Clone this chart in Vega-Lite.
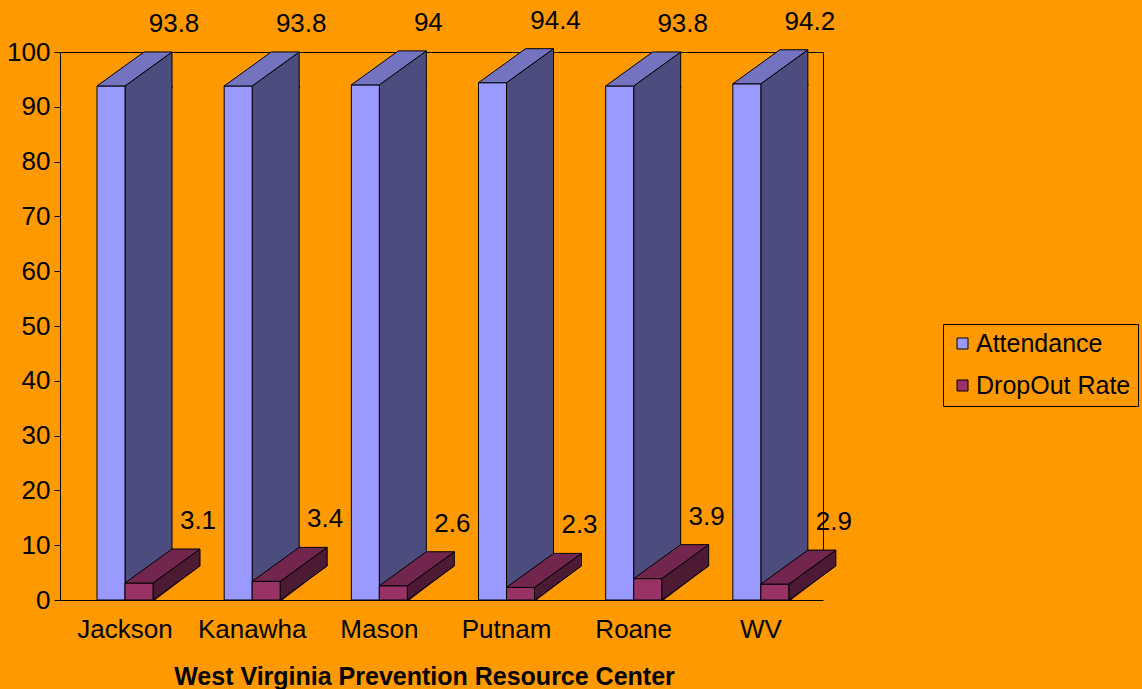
{
  "$schema": "https://vega.github.io/schema/vega-lite/v6.json",
  "width": 763,
  "height": 548,
  "autosize": "none",
  "padding": {"left": 60, "top": 52, "right": 319, "bottom": 89},
  "background": "#FF9900",
  "config": {
    "view": {"stroke": "black", "strokeWidth": 1, "fill": "#FF9900"},
    "font": "Liberation Sans",
    "axis": {"domainColor": "black", "tickColor": "black", "labelColor": "black", "titleColor": "black", "grid": false}
  },
  "data": {
    "values": [
      {"county": "Jackson", "measure": "Attendance", "value": 93.8},
      {"county": "Jackson", "measure": "DropOut Rate", "value": 3.1},
      {"county": "Kanawha", "measure": "Attendance", "value": 93.8},
      {"county": "Kanawha", "measure": "DropOut Rate", "value": 3.4},
      {"county": "Mason", "measure": "Attendance", "value": 94},
      {"county": "Mason", "measure": "DropOut Rate", "value": 2.6},
      {"county": "Putnam", "measure": "Attendance", "value": 94.4},
      {"county": "Putnam", "measure": "DropOut Rate", "value": 2.3},
      {"county": "Roane", "measure": "Attendance", "value": 93.8},
      {"county": "Roane", "measure": "DropOut Rate", "value": 3.9},
      {"county": "WV", "measure": "Attendance", "value": 94.2},
      {"county": "WV", "measure": "DropOut Rate", "value": 2.9}
    ]
  },
  "encoding": {
    "x": {
      "field": "county", "type": "nominal", "sort": null,
      "scale": {"paddingInner": 0.56, "paddingOuter": 0.28, "align": 0.52},
      "title": "West Virginia Prevention Resource Center",
      "axis": {"zindex": 1, "labelAngle": 0, "ticks": false, "labelFontSize": 26, "labelPadding": 16, "titleFontSize": 25, "titleFontWeight": "bold", "titlePadding": 22, "titleX": 364}
    },
    "y": {
      "field": "value", "type": "quantitative",
      "scale": {"domain": [0, 100], "nice": false},
      "title": null,
      "axis": {"values": [0, 10, 20, 30, 40, 50, 60, 70, 80, 90, 100], "tickSize": 6, "labelFontSize": 26, "labelPadding": 4}
    }
  },
  "layer": [
    {
      "transform": [{"filter": "datum.measure === 'Attendance'"}],
      "mark": {"type": "bar", "width": 47, "xOffset": 23.5, "fill": "#4C4C7F", "stroke": "black", "strokeWidth": 1}
    },
    {
      "transform": [{"filter": "datum.measure === 'Attendance'"}],
      "mark": {"type": "point", "shape": "M14,2L14,0L61,-34L61,2", "size": 4, "xOffset": -14, "filled": true, "fill": "#4C4C7F", "stroke": "black", "strokeWidth": 1, "opacity": 1}
    },
    {
      "transform": [{"filter": "datum.measure === 'Attendance'"}],
      "mark": {"type": "point", "shape": "M14.5,1.5L61,-34L62.5,-34L62.5,1.5Z", "size": 4, "xOffset": -14, "filled": true, "fill": "#FF9900", "strokeWidth": 0, "opacity": 1},
      "encoding": {"y": {"datum": 0}}
    },
    {
      "transform": [{"filter": "datum.measure === 'Attendance'"}],
      "mark": {"type": "bar", "width": 28, "xOffset": -14, "stroke": "black", "strokeWidth": 1},
      "encoding": {
        "color": {
          "field": "measure", "type": "nominal",
          "scale": {"domain": ["Attendance", "DropOut Rate"], "range": ["#9999FF", "#993366"]},
          "legend": {"orient": "none", "legendX": 883, "legendY": 272, "title": null, "labelFontSize": 25, "labelColor": "black", "labelLimit": 400, "symbolType": "square", "symbolSize": 121, "symbolStrokeColor": "black", "symbolStrokeWidth": 1, "strokeColor": "black", "fillColor": "#FF9900", "padding": 7, "rowPadding": 16, "labelOffset": 1}
        }
      }
    },
    {
      "transform": [{"filter": "datum.measure === 'Attendance'"}],
      "mark": {"type": "point", "shape": "M-14,0L14,0L61,-34L33,-34Z", "size": 4, "xOffset": -14, "filled": true, "fill": "#7373BF", "stroke": "black", "strokeWidth": 1, "opacity": 1}
    },
    {
      "transform": [{"filter": "datum.measure === 'DropOut Rate'"}],
      "mark": {"type": "bar", "width": 47, "xOffset": 51.5, "fill": "#4C1A33", "stroke": "black", "strokeWidth": 1}
    },
    {
      "transform": [{"filter": "datum.measure === 'DropOut Rate'"}],
      "mark": {"type": "point", "shape": "M14,2L14,0L61,-34L61,2", "size": 4, "xOffset": 14, "filled": true, "fill": "#4C1A33", "stroke": "black", "strokeWidth": 1, "opacity": 1}
    },
    {
      "transform": [{"filter": "datum.measure === 'DropOut Rate'"}],
      "mark": {"type": "point", "shape": "M14.5,1.5L61,-34L62.5,-34L62.5,1.5Z", "size": 4, "xOffset": 14, "filled": true, "fill": "#FF9900", "strokeWidth": 0, "opacity": 1},
      "encoding": {"y": {"datum": 0}}
    },
    {
      "transform": [{"filter": "datum.measure === 'DropOut Rate'"}],
      "mark": {"type": "point", "shape": "M14,0L61,-34", "size": 4, "xOffset": 14, "filled": false, "fill": "transparent", "stroke": "black", "strokeWidth": 1, "opacity": 1},
      "encoding": {"y": {"datum": 0}}
    },
    {
      "transform": [{"filter": "datum.measure === 'DropOut Rate'"}],
      "mark": {"type": "bar", "width": 28, "xOffset": 14, "stroke": "black", "strokeWidth": 1},
      "encoding": {"color": {"field": "measure", "type": "nominal"}}
    },
    {
      "transform": [{"filter": "datum.measure === 'DropOut Rate'"}],
      "mark": {"type": "point", "shape": "M-14,0L14,0L61,-34L33,-34Z", "size": 4, "xOffset": 14, "filled": true, "fill": "#73264D", "stroke": "black", "strokeWidth": 1, "opacity": 1}
    },
    {
      "transform": [{"filter": "datum.measure === 'Attendance'"}],
      "mark": {"type": "text", "dx": 49, "dy": -54, "align": "center", "baseline": "alphabetic", "fontSize": 26, "color": "black"},
      "encoding": {"text": {"field": "value", "type": "quantitative"}}
    },
    {
      "transform": [{"filter": "datum.measure === 'DropOut Rate'"}],
      "mark": {"type": "text", "dx": 73, "dy": -54, "align": "center", "baseline": "alphabetic", "fontSize": 26, "color": "black"},
      "encoding": {"text": {"field": "value", "type": "quantitative"}}
    }
  ]
}
